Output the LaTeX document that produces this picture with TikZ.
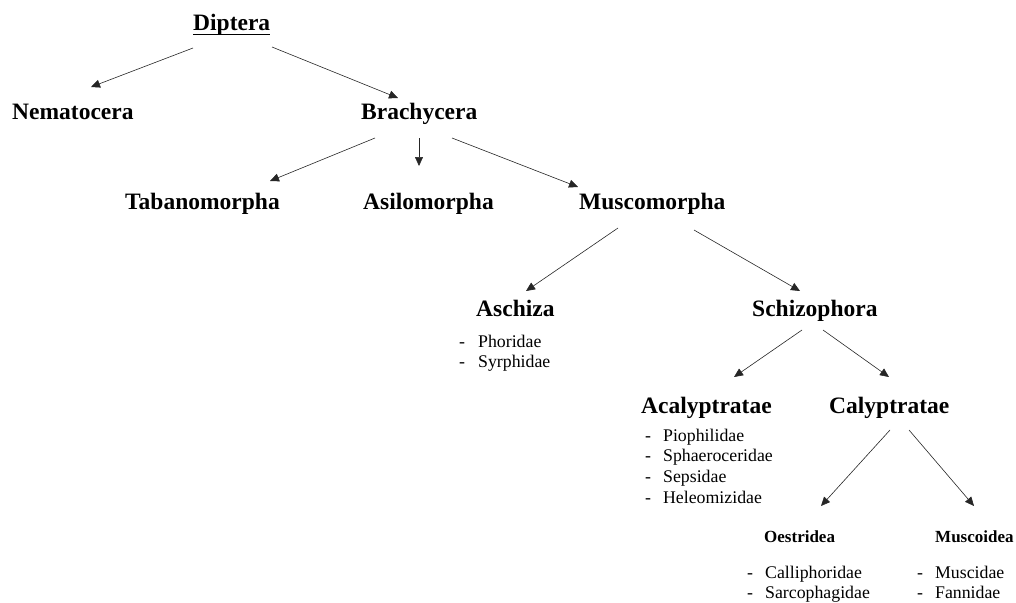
\documentclass[tikz,border=0pt]{standalone}
\usepackage{fontspec}
\setmainfont{Liberation Serif}
\usetikzlibrary{arrows.meta}
\begin{document}
\begin{tikzpicture}[x=1pt,y=-1pt,
  head/.style={anchor=base west,inner sep=0pt,font=\fontsize{23.5}{28}\selectfont\bfseries},
  subhead/.style={anchor=base west,inner sep=0pt,font=\fontsize{17}{20}\selectfont\bfseries},
  lst/.style={anchor=base west,inner sep=0pt,font=\fontsize{17.8}{20.8}\selectfont,align=left},
  arr/.style={draw=black!85,line width=0.6pt,-{Triangle[length=9pt,width=8pt]}}]
\useasboundingbox (0,0) rectangle (1016,602);
\newcommand{\flist}[2]{\begin{tabular}[t]{@{}l@{\hspace{#1pt}}l@{}}#2\end{tabular}}
% headings
\node[head] (dip) at (193,31) {Diptera};
\draw[line width=1.4pt] ([yshift=-3.5pt]dip.base west) -- ([yshift=-3.5pt]dip.base east);
\node[head] (nem) at (12,119) {Nematocera};
\node[head] (bra) at (361,119) {Brachycera};
\node[head] (tab) at (125,209) {Tabanomorpha};
\node[head] (asi) at (363,209) {Asilomorpha};
\node[head] (mus) at (579,209) {Muscomorpha};
\node[head] (asc) at (476,316) {Aschiza};
\node[head] (sch) at (752,316) {Schizophora};
\node[head] (aca) at (641,413) {Acalyptratae};
\node[head] (cal) at (829,413) {Calyptratae};
\node[subhead] (oes) at (764,542) {Oestridea};
\node[subhead] (muc) at (935,542) {Muscoidea};
% lists
\node[lst] (ascl) at (459,347) {\flist{13}{- & Phoridae\\ - & Syrphidae}};
\node[lst] (acal) at (645,441) {\flist{12}{- & Piophilidae\\ - & Sphaeroceridae\\ - & Sepsidae\\ - & Heleomizidae}};
\node[lst] (oesl) at (747,578) {\flist{12}{- & Calliphoridae\\ - & Sarcophagidae}};
\node[lst] (mucl) at (917,578) {\flist{12}{- & Muscidae\\ - & Fannidae}};
% connector end points
\coordinate (d1) at (193,48);  \coordinate (n1) at (91,87);
\coordinate (d2) at (272,47);  \coordinate (b1) at (398,98);
\coordinate (b2) at (375,138); \coordinate (t1) at (270,181);
\coordinate (b3) at (419,138); \coordinate (a1) at (419,166);
\coordinate (b4) at (452,138); \coordinate (m1) at (578,187);
\coordinate (m2) at (618,228); \coordinate (s1) at (526,291);
\coordinate (m3) at (694,230); \coordinate (s2) at (800,291);
\coordinate (c1) at (802,330); \coordinate (p1) at (734,377);
\coordinate (c2) at (823,330); \coordinate (p2) at (889,377);
\coordinate (k1) at (890,430); \coordinate (o1) at (821,506);
\coordinate (k2) at (909,430); \coordinate (o2) at (974,506);
% connectors
\draw[arr] (d1) -- (n1);
\draw[arr] (d2) -- (b1);
\draw[arr] (b2) -- (t1);
\draw[arr] (b3) -- (a1);
\draw[arr] (b4) -- (m1);
\draw[arr] (m2) -- (s1);
\draw[arr] (m3) -- (s2);
\draw[arr] (c1) -- (p1);
\draw[arr] (c2) -- (p2);
\draw[arr] (k1) -- (o1);
\draw[arr] (k2) -- (o2);
\end{tikzpicture}
\end{document}
